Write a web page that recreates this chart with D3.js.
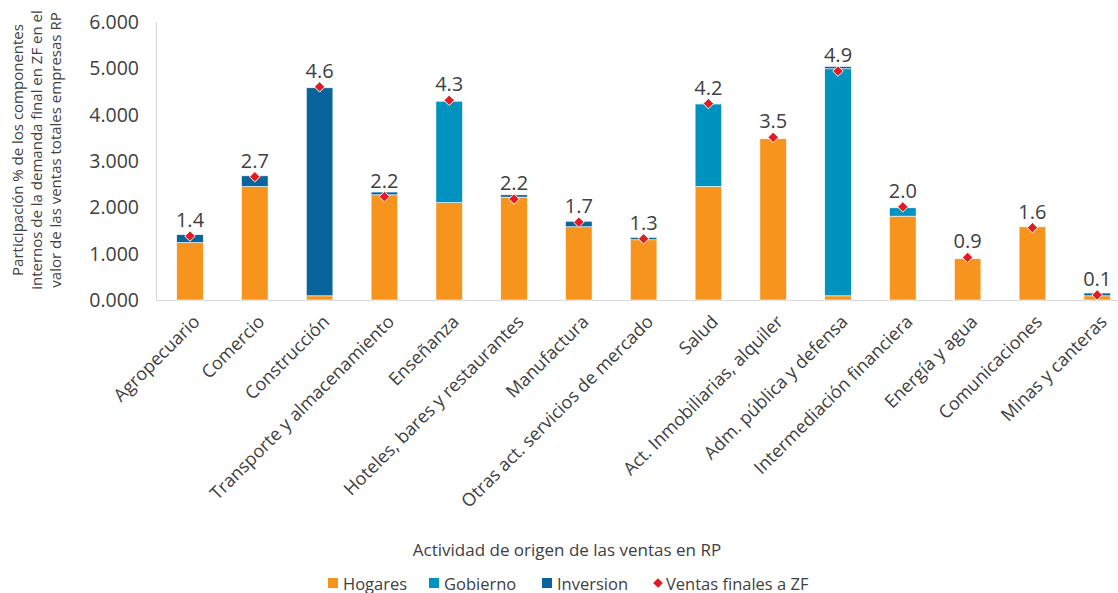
<!DOCTYPE html>
<meta charset="utf-8">
<head>
  <style>
    body { margin: 0; background: #fff; }
    text { font-family: "Open Sans", sans-serif; fill: #404040; }
  </style>
  <script src="https://cdn.jsdelivr.net/npm/d3@7"></script>
</head>
<body>
<script>
  const categories = ["Agropecuario", "Comercio", "Construcción", "Transporte y almacenamiento",
    "Enseñanza", "Hoteles, bares y restaurantes", "Manufactura", "Otras act. servicios de mercado",
    "Salud", "Act. Inmobiliarias, alquiler", "Adm. pública y defensa", "Intermediación financiera",
    "Energía y agua", "Comunicaciones", "Minas y canteras"];
  const hogares   = [1.24, 2.45, 0.09, 2.27, 2.10, 2.22, 1.58, 1.30, 2.45, 3.48, 0.09, 1.81, 0.89, 1.58, 0.09];
  const gobierno  = [0, 0, 0, 0, 2.19, 0, 0, 0, 1.78, 0, 4.90, 0.18, 0, 0, 0];
  const inversion = [0.17, 0.23, 4.49, 0.06, 0, 0.05, 0.12, 0.05, 0, 0, 0.05, 0, 0, 0, 0.06];
  const ventas    = [1.38, 2.66, 4.60, 2.23, 4.31, 2.18, 1.68, 1.32, 4.24, 3.51, 4.94, 2.01, 0.92, 1.56, 0.11];
  const yTicks = [0, 1, 2, 3, 4, 5, 6];

  const keys = ["hogares", "gobierno", "inversion"];
  const colors = {hogares: "#F7941D", gobierno: "#0093BF", inversion: "#08649A"};
  const names = {hogares: "Hogares", gobierno: "Gobierno", inversion: "Inversion"};

  const rows = categories.map((c, i) => ({cat: c, hogares: hogares[i], gobierno: gobierno[i], inversion: inversion[i], ventas: ventas[i]}));

  const W = 1118, H = 593;
  const svg = d3.select("body").append("svg")
    .attr("width", W).attr("height", H)
    .style("display", "block").style("overflow", "hidden");

  const x = d3.scaleBand().domain(categories).range([157.6, 1129.6])
    .paddingInner(0.59).paddingOuter(0.295);
  const y = d3.scaleLinear().domain([0, 6]).range([300, 22]);

  // axis lines
  svg.append("line").attr("x1", 156).attr("x2", W).attr("y1", 300.5).attr("y2", 300.5)
    .attr("stroke", "#d9d9d9").attr("stroke-width", 1.2);
  svg.append("line").attr("x1", 156.5).attr("x2", 156.5).attr("y1", 22).attr("y2", 300)
    .attr("stroke", "#d9d9d9").attr("stroke-width", 1.2);

  // y tick labels
  svg.append("g").selectAll("text").data(yTicks).join("text")
    .attr("x", 139).attr("y", d => y(d)).attr("dy", "0.36em")
    .attr("text-anchor", "end").style("font-size", "19.5px")
    .text(d => d3.format(".3f")(d));

  // stacked bars
  const series = d3.stack().keys(keys)(rows);
  svg.append("g").selectAll("g").data(series).join("g")
    .attr("fill", s => colors[s.key])
    .selectAll("rect").data(s => s).join("rect")
      .attr("x", d => x(d.data.cat))
      .attr("width", x.bandwidth())
      .attr("y", d => y(d[1]))
      .attr("height", d => Math.max(0, y(d[0]) - y(d[1])))
      .attr("stroke", "#fff").attr("stroke-width", 0.6);

  // markers
  const diamond = d3.symbol().type(d3.symbolDiamond2).size(70);
  svg.append("g").selectAll("path").data(rows).join("path")
    .attr("transform", d => `translate(${x(d.cat) + x.bandwidth() / 2},${y(d.ventas)})`)
    .attr("d", diamond)
    .attr("fill", "#E31B23").attr("stroke", "#fff").attr("stroke-width", 1);

  // data labels
  svg.append("g").selectAll("text").data(rows).join("text")
    .attr("x", d => x(d.cat) + x.bandwidth() / 2)
    .attr("y", d => y(d.ventas) - 9)
    .attr("text-anchor", "middle").style("font-size", "20px")
    .text(d => d3.format(".1f")(d.ventas));

  // category labels
  svg.append("g").selectAll("text").data(categories).join("text")
    .attr("transform", d => `translate(${x(d) + x.bandwidth() / 2 + 2},${314}) rotate(-45)`)
    .attr("text-anchor", "end").attr("dy", "0.7em").style("font-size", "18px")
    .text(d => d);

  // y axis title
  const yTitle = ["Participación % de los componentes",
    "internos de la demanda final en ZF en el",
    "valor de las ventas totales empresas RP"];
  svg.append("g").attr("transform", "translate(23,150) rotate(-90)")
    .selectAll("text").data(yTitle).join("text")
      .attr("x", 0).attr("y", (d, i) => i * 19)
      .attr("text-anchor", "middle").style("font-size", "15px")
      .text(d => d);

  // x axis title
  svg.append("text").attr("x", 567).attr("y", 556)
    .attr("text-anchor", "middle").style("font-size", "17px")
    .text("Actividad de origen de las ventas en RP");

  // legend
  const legendItems = [
    {key: "hogares", x: 328}, {key: "gobierno", x: 429}, {key: "inversion", x: 542}
  ];
  const lg = svg.append("g");
  legendItems.forEach(it => {
    lg.append("rect").attr("x", it.x).attr("y", 578).attr("width", 10).attr("height", 10)
      .attr("fill", colors[it.key]);
    lg.append("text").attr("x", it.x + 15).attr("y", 589.5).style("font-size", "16.5px")
      .text(names[it.key]);
  });
  lg.append("path").attr("transform", "translate(658,583)")
    .attr("d", d3.symbol().type(d3.symbolDiamond2).size(60))
    .attr("fill", "#E31B23");
  lg.append("text").attr("x", 666).attr("y", 589.5).style("font-size", "16.5px")
    .text("Ventas finales a ZF");
</script>
</body>
</html>
